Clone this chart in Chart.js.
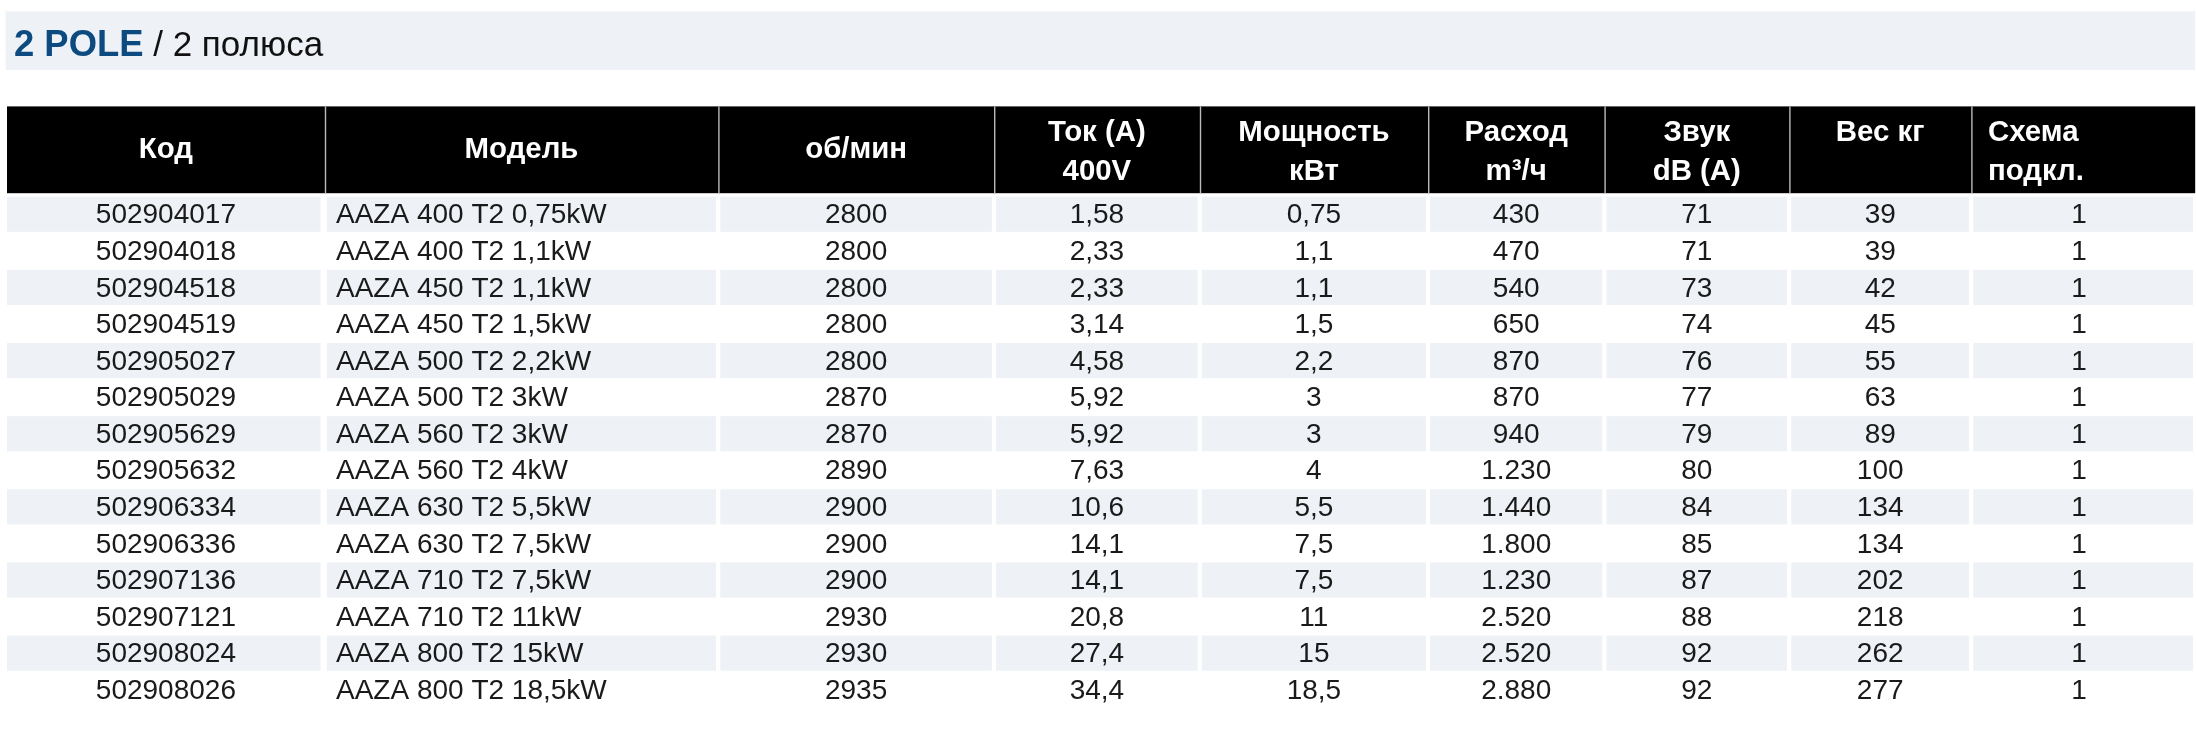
<!DOCTYPE html>
<html><head><meta charset="utf-8">
<script src="https://cdn.jsdelivr.net/npm/chart.js@4"></script>
<style>html,body{margin:0;padding:0;background:#fff}canvas{display:block}</style>
</head><body>
<canvas id="c" width="2196" height="756"></canvas>
<script>
const codes=["502904017","502904018","502904518","502904519","502905027","502905029","502905629","502905632","502906334","502906336","502907136","502907121","502908024","502908026"];
const models=["AAZA 400 T2 0,75kW","AAZA 400 T2 1,1kW","AAZA 450 T2 1,1kW","AAZA 450 T2 1,5kW","AAZA 500 T2 2,2kW","AAZA 500 T2 3kW","AAZA 560 T2 3kW","AAZA 560 T2 4kW","AAZA 630 T2 5,5kW","AAZA 630 T2 7,5kW","AAZA 710 T2 7,5kW","AAZA 710 T2 11kW","AAZA 800 T2 15kW","AAZA 800 T2 18,5kW"];
const rpm=["2800","2800","2800","2800","2800","2870","2870","2890","2900","2900","2900","2930","2930","2935"];
const current=["1,58","2,33","2,33","3,14","4,58","5,92","5,92","7,63","10,6","14,1","14,1","20,8","27,4","34,4"];
const power=["0,75","1,1","1,1","1,5","2,2","3","3","4","5,5","7,5","7,5","11","15","18,5"];
const flow=["430","470","540","650","870","870","940","1.230","1.440","1.800","1.230","2.520","2.520","2.880"];
const sound=["71","71","73","74","76","77","79","80","84","85","87","88","92","92"];
const weight=["39","39","42","45","55","63","89","100","134","134","202","218","262","277"];
const scheme=["1","1","1","1","1","1","1","1","1","1","1","1","1","1"];
const headers=[["Код"],["Модель"],["об/мин"],["Ток (A)","400V"],["Мощность","кВт"],["Расход","m³/ч"],["Звук","dB (A)"],["Вес кг"],["Схема","подкл."]];

const S=1.4;
const bounds=[5,232,513,710,857,1020,1146,1278,1408,1568];
const cols=[codes,models,rpm,current,power,flow,sound,weight,scheme];
const FONT='"Liberation Sans", Arial, sans-serif';

const tablePlugin={id:'tbl',
 beforeDraw(ch){
  const c=ch.ctx, y=ch.scales.y;
  c.save(); c.fillStyle='#fff'; c.fillRect(0,0,ch.width,ch.height);
  c.scale(S,S);
  c.fillStyle='#eef2f7'; c.fillRect(4,8,1564,42);
  c.textBaseline='alphabetic'; c.textAlign='left';
  c.font='bold 26px '+FONT; c.fillStyle='#0d4a80'; c.fillText('2 POLE',10,40);
  const w=c.measureText('2 POLE').width;
  c.font='25px '+FONT; c.fillStyle='#111'; c.fillText(' / 2 полюса',10+w,40);
  c.fillStyle='#000'; c.fillRect(5,76,1563,62);
  c.strokeStyle='#bbb'; c.lineWidth=1;
  for(let i=1;i<bounds.length-1;i++){c.beginPath();c.moveTo(bounds[i]+0.5,76);c.lineTo(bounds[i]+0.5,138);c.stroke();}
  c.fillStyle='#fff'; c.font='bold 21px '+FONT; c.textBaseline='middle';
  headers.forEach((h,i)=>{
   const left=i===8, x=left?bounds[i]+12:(bounds[i]+bounds[i+1])/2;
   c.textAlign=left?'left':'center';
   if(h.length===1){ c.fillText(h[0],x,i===7?95:107); }
   else { c.fillText(h[0],x,95); c.fillText(h[1],x,123); }
  });
  const step=(y.getPixelForValue(1)-y.getPixelForValue(0))/S;
  codes.forEach((_,r)=>{
   if(r%2) return;
   const cy=y.getPixelForValue(r)/S;
   c.fillStyle='#eef2f7';
   for(let i=0;i<bounds.length-1;i++) c.fillRect(bounds[i]+(i?1.5:0),cy-step/2+0.5,bounds[i+1]-bounds[i]-3,step-1);
  });
  c.restore();
 },
 afterDraw(ch){
  const c=ch.ctx, y=ch.scales.y;
  c.save(); c.scale(S,S);
  c.fillStyle='#1a1a1a'; c.font='20px '+FONT; c.textBaseline='middle';
  cols.forEach((arr,i)=>{
   arr.forEach((v,r)=>{
    const cy=y.getPixelForValue(r)/S+1;
    if(i===1){c.textAlign='left'; c.fillText(v,bounds[i]+8,cy);}
    else {c.textAlign='center'; c.fillText(v,(bounds[i]+bounds[i+1])/2+(i===8?-3:0),cy);}
   });
  });
  c.restore();
 }};

new Chart(document.getElementById('c'),{
 type:'bar',
 data:{labels:codes,datasets:[{data:codes.map(()=>0),backgroundColor:'rgba(0,0,0,0)'}]},
 options:{responsive:false,devicePixelRatio:1,animation:false,indexAxis:'y',
  layout:{padding:{top:196,bottom:48,left:7,right:0}},
  plugins:{legend:{display:false},tooltip:{enabled:false}},
  scales:{y:{type:'category',display:false,offset:true},x:{display:false,min:0,max:1}}},
 plugins:[tablePlugin]});
</script>
</body></html>
